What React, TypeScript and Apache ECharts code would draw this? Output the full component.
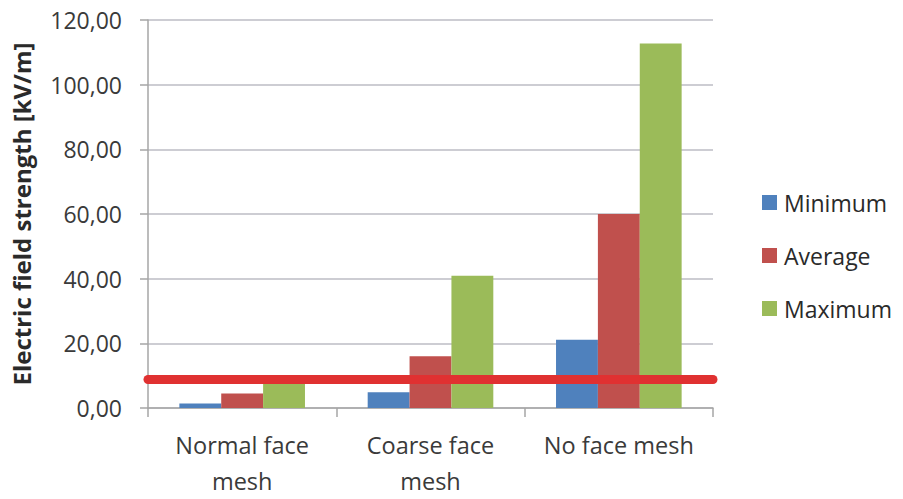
import React, { useEffect, useRef } from "react";
import * as echarts from "echarts";

const categories = ["Normal face\nmesh", "Coarse face\nmesh", "No face mesh"];
const minimumValues = [1.4, 4.9, 21.1];
const averageValues = [4.5, 16.0, 60.0];
const maximumValues = [8.5, 40.9, 112.7];
const thresholdValue = 8.9;
const yTicks = { min: 0, max: 120, interval: 20 };

const FONT = "'Open Sans', 'Noto Sans', sans-serif";

export default function App() {
  const ref = useRef<HTMLDivElement>(null);

  useEffect(() => {
    if (!ref.current) return;
    const chart = echarts.init(ref.current, null, { renderer: "svg" });
    chart.setOption({
      animation: false,
      backgroundColor: "#ffffff",
      textStyle: { fontFamily: FONT },
      grid: { left: 148, right: 190, top: 20, bottom: 85, containLabel: false },
      legend: {
        orient: "vertical",
        left: 757,
        top: 186,
        itemWidth: 15,
        itemHeight: 15,
        itemGap: 30,
        icon: "rect",
        textStyle: {
          fontFamily: FONT,
          fontSize: 23,
          color: "#2a2a2a",
          lineHeight: 22,
          padding: [0, 0, 0, 2],
        },
        data: ["Minimum", "Average", "Maximum"],
      },
      xAxis: {
        type: "category",
        data: categories,
        axisLine: { lineStyle: { color: "#a6a6a6", width: 1.5 } },
        axisTick: { show: true, length: 9, lineStyle: { color: "#a6a6a6", width: 1.5 } },
        axisLabel: {
          fontFamily: FONT,
          fontSize: 23.5,
          lineHeight: 36,
          color: "#3a3a3a",
          margin: 19,
          interval: 0,
        },
      },
      yAxis: {
        type: "value",
        min: yTicks.min,
        max: yTicks.max,
        interval: yTicks.interval,
        name: "Electric field strength [kV/m]",
        nameLocation: "middle",
        nameGap: 115,
        nameTextStyle: {
          fontFamily: FONT,
          fontSize: 24,
          fontWeight: "bold",
          color: "#2a2a2a",
        },
        axisLine: { show: true, lineStyle: { color: "#a6a6a6", width: 1.5 } },
        axisTick: { show: true, length: 8, lineStyle: { color: "#a6a6a6", width: 1.5 } },
        splitLine: { show: true, lineStyle: { color: "#bcbcc4", width: 1.5 } },
        axisLabel: {
          fontFamily: FONT,
          fontSize: 23,
          color: "#3a3a3a",
          margin: 26,
          formatter: (v: number) => v.toFixed(2).replace(".", ","),
        },
      },
      series: [
        {
          name: "Minimum",
          type: "bar",
          data: minimumValues,
          itemStyle: { color: "#4f81bd" },
          barGap: "0%",
          barCategoryGap: "33.3%",
        },
        {
          name: "Average",
          type: "bar",
          data: averageValues,
          itemStyle: { color: "#c0504d" },
          barGap: "0%",
          barCategoryGap: "33.3%",
        },
        {
          name: "Maximum",
          type: "bar",
          data: maximumValues,
          itemStyle: { color: "#9bbb59" },
          barGap: "0%",
          barCategoryGap: "33.3%",
          markLine: {
            silent: true,
            symbol: "none",
            label: { show: false },
            lineStyle: { color: "#e03131", width: 9, type: "solid", cap: "round" },
            data: [{ yAxis: thresholdValue }],
          },
        },
      ],
    });
    return () => chart.dispose();
  }, []);

  return (
    <div
      ref={ref}
      style={{ position: "fixed", left: 0, top: 0, width: 903, height: 499 }}
    />
  );
}
